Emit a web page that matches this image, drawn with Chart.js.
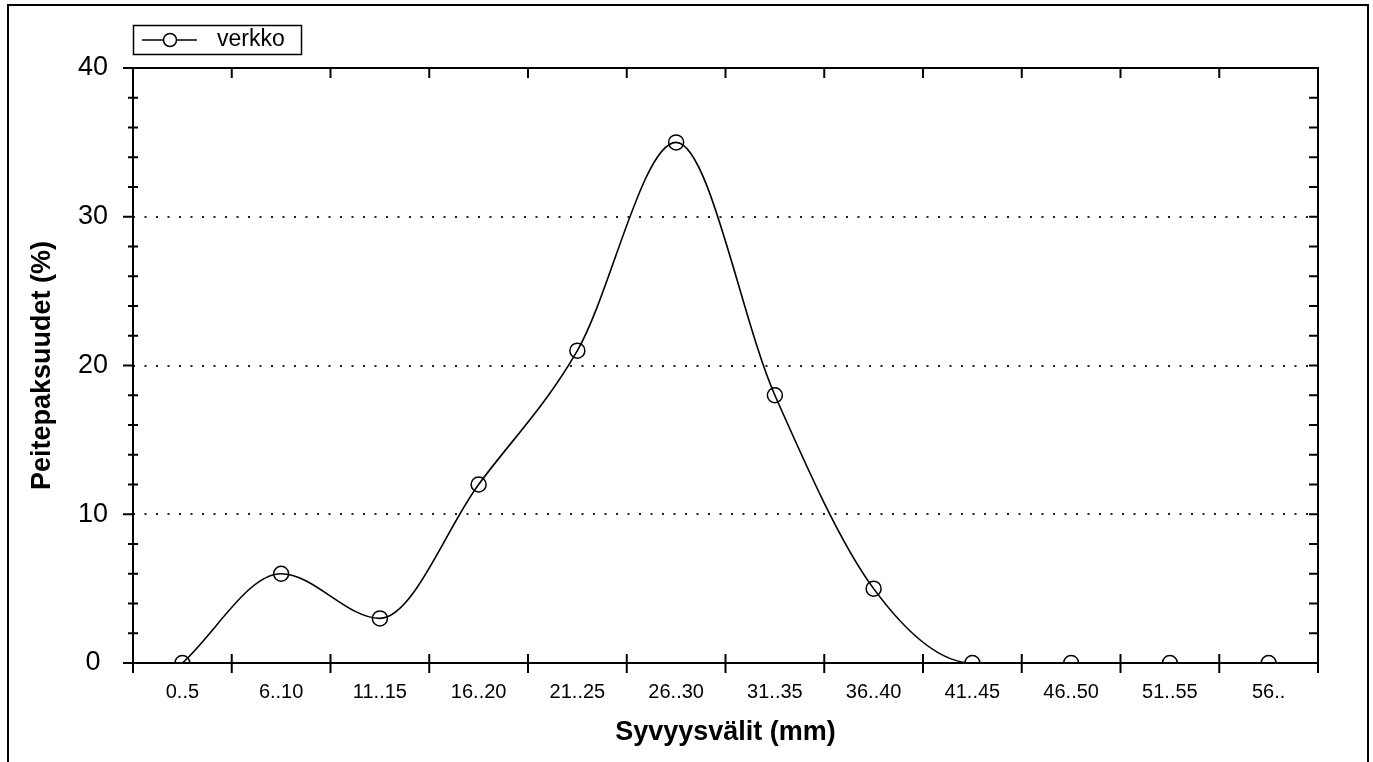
<!DOCTYPE html>
<html>
<head>
<meta charset="utf-8">
<script src="https://cdn.jsdelivr.net/npm/chart.js@4.4.1/dist/chart.umd.min.js"></script>
<style>
  html, body { margin: 0; padding: 0; background: #fff; }
  #wrap { width: 1373px; height: 762px; position: relative; }
</style>
</head>
<body>
<div id="wrap"><canvas id="c" width="1373" height="762"></canvas></div>
<script>
const categories = ["0..5", "6..10", "11..15", "16..20", "21..25", "26..30", "31..35", "36..40", "41..45", "46..50", "51..55", "56.."];
const seriesName = "verkko";
const seriesValues = [0, 6, 3, 12, 21, 35, 18, 5, 0, 0, 0, 0];
const yTicks = [0, 10, 20, 30, 40];
const yMinorStep = 2;
const xTitle = "Syvyysvälit (mm)";
const yTitle = "Peitepaksuudet (%)";

const FONT = "'Liberation Sans', Arial, Helvetica, sans-serif";

const decorPlugin = {
  id: 'decor',
  beforeDatasetsDraw(chart) {
    const ctx = chart.ctx, a = chart.chartArea, y = chart.scales.y;
    ctx.save();
    ctx.strokeStyle = '#222';
    ctx.lineWidth = 2;
    ctx.setLineDash([2, 9.5]);
    yTicks.forEach(v => {
      const py = Math.round(y.getPixelForValue(v));
      ctx.beginPath();
      ctx.moveTo(a.left, py);
      ctx.lineTo(a.right, py);
      ctx.stroke();
    });
    ctx.restore();
  },
  afterDraw(chart) {
    const ctx = chart.ctx, a = chart.chartArea, x = chart.scales.x, y = chart.scales.y;
    ctx.save();
    ctx.strokeStyle = '#000';
    ctx.lineWidth = 2;
    ctx.setLineDash([]);
    // plot frame
    ctx.strokeRect(a.left, a.top, a.right - a.left, a.bottom - a.top);
    // y ticks
    const ymin = y.min, ymax = y.max;
    for (let v = ymin; v <= ymax + 1e-9; v += yMinorStep) {
      const py = y.getPixelForValue(v);
      const major = yTicks.includes(v);
      ctx.beginPath();
      if (major) { ctx.moveTo(a.left - 10, py); ctx.lineTo(a.left, py); }
      else { ctx.moveTo(a.left - 5, py); ctx.lineTo(a.left + 5, py); }
      ctx.moveTo(a.right - 9, py); ctx.lineTo(a.right, py);
      ctx.stroke();
    }
    // x ticks at category boundaries
    const step = x.getPixelForValue(1) - x.getPixelForValue(0);
    for (let i = 0; i <= categories.length; i++) {
      const px = x.getPixelForValue(i) - step / 2;
      ctx.beginPath();
      ctx.moveTo(px, a.bottom - 9); ctx.lineTo(px, a.bottom + 10);
      if (i > 0 && i < categories.length) { ctx.moveTo(px, a.top); ctx.lineTo(px, a.top + 10); }
      ctx.stroke();
    }
    // outer frame
    ctx.lineWidth = 2;
    ctx.strokeRect(8, 5, 1360, 800);
    // legend
    const ds = chart.data.datasets[0];
    ctx.lineWidth = 1.5;
    ctx.strokeRect(133.5, 25.5, 168, 29);
    ctx.beginPath();
    ctx.moveTo(142, 40); ctx.lineTo(197, 40);
    ctx.stroke();
    ctx.beginPath();
    ctx.arc(170, 40, 6.5, 0, Math.PI * 2);
    ctx.fillStyle = '#fff';
    ctx.fill();
    ctx.stroke();
    ctx.fillStyle = '#000';
    ctx.font = "23px " + FONT;
    ctx.textBaseline = 'middle';
    ctx.textAlign = 'left';
    ctx.fillText(ds.label, 217, 40);
    ctx.restore();
  }
};

new Chart(document.getElementById('c'), {
  type: 'line',
  data: {
    labels: categories,
    datasets: [{
      label: seriesName,
      data: seriesValues,
      borderColor: '#000',
      borderWidth: 1.6,
      cubicInterpolationMode: 'monotone',
      pointRadius: 7.5,
      pointHoverRadius: 7.5,
      pointBorderWidth: 1.5,
      pointBorderColor: '#000',
      pointBackgroundColor: 'rgba(0,0,0,0)',
      fill: false,
      clip: 0
    }]
  },
  options: {
    responsive: false,
    animation: false,
    events: [],
    layout: { padding: { top: 68, right: 55, left: 0, bottom: 0 } },
    plugins: { legend: { display: false }, tooltip: { enabled: false } },
    scales: {
      x: {
        type: 'category',
        offset: true,
        grid: { display: false, drawTicks: false, tickLength: 0 },
        border: { display: false },
        ticks: { color: '#000', font: { family: FONT, size: 20 }, padding: 17, maxRotation: 0, autoSkip: false },
        title: { display: true, text: xTitle, color: '#000', font: { family: FONT, size: 27, weight: 'bold' }, padding: { top: 0, bottom: 13 } },
        afterFit(s) { s.height = 99; }
      },
      y: {
        min: 0, max: 40,
        grid: { display: false, drawTicks: false, tickLength: 0 },
        border: { display: false },
        ticks: { stepSize: 10, color: '#000', font: { family: FONT, size: 27 }, padding: 25, crossAlign: 'center' },
        title: { display: true, text: yTitle, color: '#000', font: { family: FONT, size: 27, weight: 'bold' }, padding: { top: 26, bottom: 0 } },
        afterFit(s) { s.width = 133; }
      }
    }
  },
  plugins: [decorPlugin]
});
</script>
</body>
</html>
